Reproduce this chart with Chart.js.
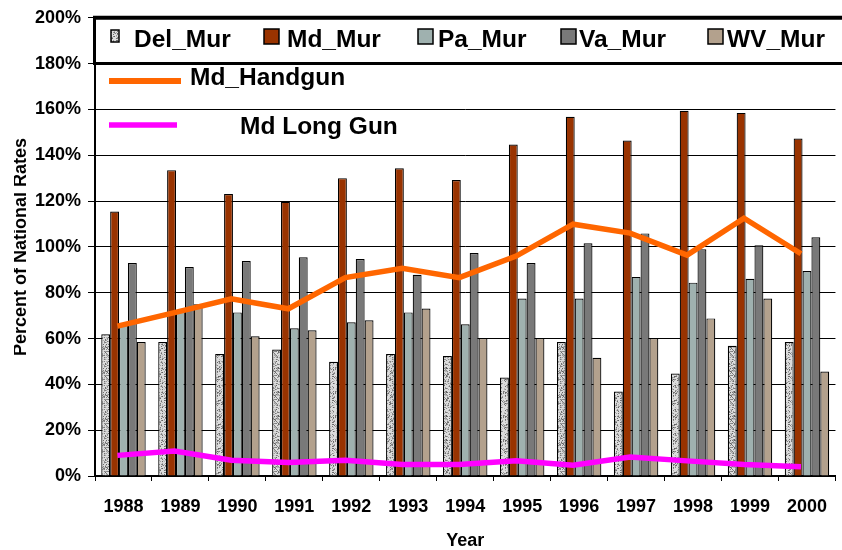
<!DOCTYPE html>
<html><head><meta charset="utf-8">
<script src="https://cdn.jsdelivr.net/npm/chart.js@4.4.1/dist/chart.umd.min.js"></script>
<style>html,body{margin:0;padding:0;background:#fff}#wrap{width:842px;height:550px;position:relative}</style>
</head><body><div id="wrap"><canvas id="c" width="842" height="550"></canvas></div>
<script>
const years = ['1988','1989','1990','1991','1992','1993','1994','1995','1996','1997','1998','1999','2000'];
const delMur = [61.9, 58.5, 53.3, 55.2, 49.9, 53.3, 52.4, 43.0, 58.5, 36.9, 44.7, 56.8, 58.5];
const mdMur  = [115.4, 133.5, 123.1, 119.7, 130.0, 134.3, 129.2, 144.7, 156.8, 146.4, 159.4, 158.5, 147.3];
const paMur  = [66.0, 72.0, 71.4, 64.5, 67.1, 71.4, 66.2, 77.5, 77.5, 86.9, 84.4, 86.1, 89.5];
const vaMur  = [93.0, 91.2, 93.8, 95.5, 94.7, 87.8, 97.3, 93.0, 101.6, 105.9, 99.0, 100.7, 104.2];
const wvMur  = [58.5, 75.0, 61.0, 63.6, 68.0, 73.1, 60.2, 60.2, 51.6, 60.2, 68.8, 77.5, 45.6];
const mdHandgun = [65.4, 71.3, 77.3, 73.0, 86.6, 90.7, 86.6, 96.0, 109.9, 106.0, 96.4, 112.5, 97.0];
const mdLongGun = [9.0, 10.9, 6.9, 5.9, 6.9, 5.0, 5.0, 6.6, 4.7, 8.3, 6.6, 5.0, 4.0];
const yTicks = [0,20,40,60,80,100,120,140,160,180,200];

const FONT = '"Liberation Sans", Arial, sans-serif';

function granite(){
  const n = 24;
  const c = document.createElement('canvas'); c.width = n; c.height = n;
  const g = c.getContext('2d');
  g.fillStyle = '#dcdcdc'; g.fillRect(0,0,n,n);
  let s = 12345;
  for (let i = 0; i < n*n; i++) {
    s = (s * 1103515245 + 12345) & 0x7fffffff;
    const r = (s >> 8) % 100;
    if (r < 45) {
      const v = 95 + r * 3;
      g.fillStyle = 'rgb(' + v + ',' + v + ',' + v + ')';
      g.fillRect(i % n, (i / n) | 0, 1, 1);
    }
  }
  return g.createPattern(c, 'repeat');
}
const pat = granite();

const COLORS = { md:'#993300', pa:'#9FB1AF', va:'#797979', wv:'#B3A18D', hand:'#FF6600', long:'#FF00FF' };

// the line series in the original sit slightly left of the bar-group centres
const LINE_SHIFT = -6;
const lineShift = {
  id:'lineShift',
  beforeDatasetDraw(chart, args){
    if (args.meta.type === 'line') { chart.ctx.save(); chart.ctx.translate(LINE_SHIFT, 0); }
  },
  afterDatasetDraw(chart, args){
    if (args.meta.type === 'line') chart.ctx.restore();
  }
};

const overlay = {
  id:'overlay',
  afterDraw(chart){
    const ctx = chart.ctx;
    const ca = chart.chartArea;
    ctx.save();
    ctx.strokeStyle = '#000';
    ctx.lineWidth = 4;
    ctx.beginPath(); ctx.moveTo(93, ca.top); ctx.lineTo(842, ca.top); ctx.stroke();
    const y180 = chart.scales.y.getPixelForValue(180);
    ctx.lineWidth = 3;
    ctx.beginPath(); ctx.moveTo(93, y180); ctx.lineTo(842, y180); ctx.stroke();
    ctx.beginPath(); ctx.moveTo(94.5, ca.top); ctx.lineTo(94.5, y180); ctx.stroke();

    const boxes = [
      {x:111, y:30, w:8, h:12, fill:pat, text:'Del_Mur', tx:134},
      {x:264, y:29, w:15, h:15, fill:COLORS.md, text:'Md_Mur', tx:287},
      {x:418, y:29, w:15, h:15, fill:COLORS.pa, text:'Pa_Mur', tx:438},
      {x:561, y:29, w:15, h:15, fill:COLORS.va, text:'Va_Mur', tx:579},
      {x:708, y:29, w:15, h:15, fill:COLORS.wv, text:'WV_Mur', tx:727}
    ];
    ctx.font = 'bold 24.5px ' + FONT;
    ctx.textBaseline = 'alphabetic';
    ctx.textAlign = 'left';
    boxes.forEach(b => {
      ctx.fillStyle = b.fill; ctx.fillRect(b.x, b.y, b.w, b.h);
      ctx.lineWidth = 1.5; ctx.strokeStyle = '#000'; ctx.strokeRect(b.x, b.y, b.w, b.h);
      ctx.fillStyle = '#000'; ctx.fillText(b.text, b.tx, 47);
    });
    ctx.lineCap = 'butt';
    ctx.strokeStyle = COLORS.hand; ctx.lineWidth = 6;
    ctx.beginPath(); ctx.moveTo(109, 81); ctx.lineTo(181, 81); ctx.stroke();
    ctx.fillStyle = '#000'; ctx.fillText('Md_Handgun', 190, 85);
    ctx.strokeStyle = COLORS.long; ctx.lineWidth = 5.5;
    ctx.beginPath(); ctx.moveTo(109, 125); ctx.lineTo(177, 125); ctx.stroke();
    ctx.fillStyle = '#000'; ctx.fillText('Md Long Gun', 240, 134);

    // y-axis title, its top edge cut off as in the original
    ctx.save();
    ctx.beginPath(); ctx.rect(14, 0, 60, 550); ctx.clip();
    ctx.translate(26, (ca.top + ca.bottom) / 2);
    ctx.rotate(-Math.PI / 2);
    ctx.font = 'bold 18px ' + FONT;
    ctx.textAlign = 'center';
    ctx.textBaseline = 'alphabetic';
    ctx.fillStyle = '#000';
    ctx.fillText('Percent of National Rates', 0, 0);
    ctx.restore();
    ctx.restore();
  }
};

const tickFont = { family: FONT, size: 18, weight: 'bold' };

new Chart(document.getElementById('c'), {
  type: 'bar',
  data: {
    labels: years,
    datasets: [
      { label:'Del_Mur', data: delMur, backgroundColor: pat, borderColor:'#000', borderWidth:1.2, order:2 },
      { label:'Md_Mur', data: mdMur, backgroundColor: COLORS.md, borderColor:'#000', borderWidth:1.2, order:2 },
      { label:'Pa_Mur', data: paMur, backgroundColor: COLORS.pa, borderColor:'#000', borderWidth:1.2, order:2 },
      { label:'Va_Mur', data: vaMur, backgroundColor: COLORS.va, borderColor:'#000', borderWidth:1.2, order:2 },
      { label:'WV_Mur', data: wvMur, backgroundColor: COLORS.wv, borderColor:'#000', borderWidth:1.2, order:2 },
      { type:'line', label:'Md_Handgun', data: mdHandgun,
        borderColor: COLORS.hand, borderWidth:5.5, pointRadius:0, tension:0, fill:false, order:0 },
      { type:'line', label:'Md Long Gun', data: mdLongGun,
        borderColor: COLORS.long, borderWidth:5.5, pointRadius:0, tension:0, fill:false, order:0 }
    ]
  },
  options: {
    responsive: false,
    animation: false,
    devicePixelRatio: 1,
    layout: { padding: { top: 12, left: 0, right: 0, bottom: 0 } },
    plugins: { legend: { display: false }, tooltip: { enabled: false } },
    categoryPercentage: 0.78,
    barPercentage: 1.0,
    scales: {
      x: {
        type: 'category', offset: true,
        grid: { display: true, drawOnChartArea: false, drawTicks: true, tickLength: 5, color: '#000', lineWidth: 1, offset: true },
        border: { color: '#000', width: 2 },
        ticks: { font: tickFont, color: '#000', padding: 15, maxRotation: 0, autoSkip: false },
        title: { display: true, text: 'Year', font: { family: FONT, size: 18, weight: 'bold', lineHeight: 1.0 }, color: '#000', padding: 0 },
        afterFit: s => { s.height = 74; }
      },
      y: {
        min: 0, max: 200,
        afterBuildTicks: s => { s.ticks = yTicks.map(v => ({ value: v })); },
        ticks: { font: tickFont, color: '#000', padding: 7, callback: v => v + '%' },
        grid: { color: '#000', lineWidth: 1, tickLength: 7 },
        border: { color: '#000', width: 2 },
        afterFit: s => { s.width = 95; }
      }
    }
  },
  plugins: [lineShift, overlay]
});
</script>
</body></html>
